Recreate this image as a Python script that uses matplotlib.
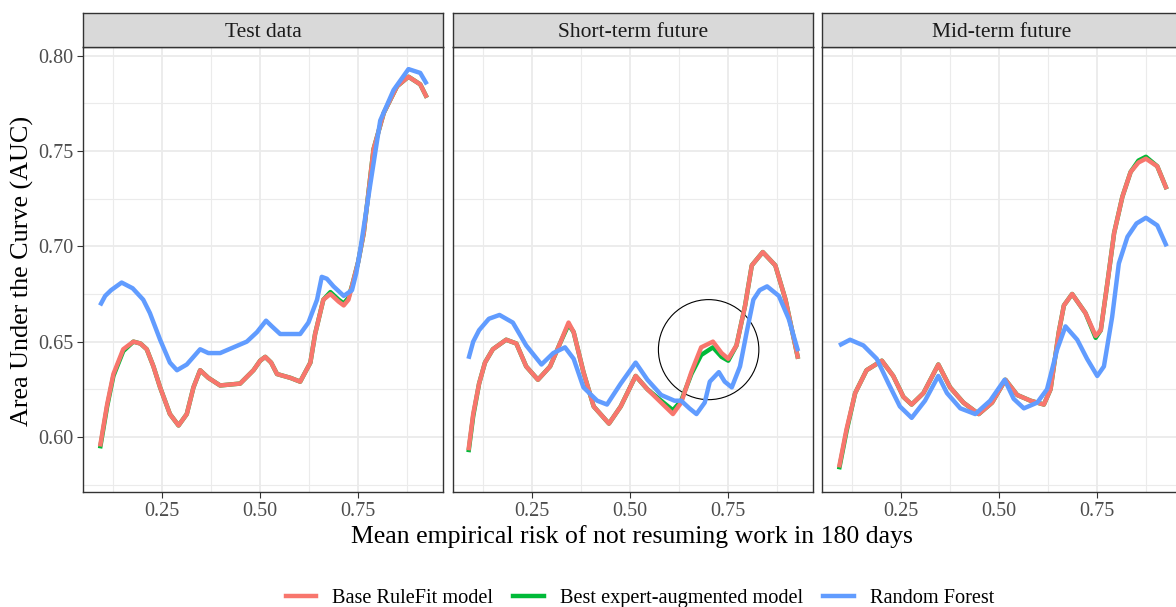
import matplotlib.pyplot as plt
from matplotlib.patches import Ellipse

plt.rcParams['font.family'] = 'Liberation Serif'

panels = ['Test data', 'Short-term future', 'Mid-term future']
models = ['Base RuleFit model', 'Best expert-augmented model', 'Random Forest']
colors = ['#F8766D', '#00BA38', '#619CFF']

# Test data
test_rulefit_x = [0.092, 0.110, 0.126, 0.151, 0.177, 0.195, 0.211, 0.228, 0.245, 0.270, 0.292, 0.313,
                  0.330, 0.347, 0.368, 0.398, 0.449, 0.483, 0.500, 0.513, 0.528, 0.543, 0.577, 0.602,
                  0.628, 0.640, 0.661, 0.679, 0.700, 0.713, 0.725, 0.735, 0.750, 0.764, 0.789, 0.815,
                  0.849, 0.878, 0.908, 0.925]
test_rulefit_y = [0.595, 0.617, 0.633, 0.646, 0.650, 0.649, 0.646, 0.637, 0.626, 0.612, 0.606, 0.612,
                  0.626, 0.635, 0.631, 0.627, 0.628, 0.635, 0.640, 0.642, 0.639, 0.633, 0.631, 0.629,
                  0.639, 0.654, 0.672, 0.675, 0.671, 0.669, 0.672, 0.680, 0.692, 0.707, 0.751, 0.770,
                  0.784, 0.789, 0.785, 0.778]
test_expert_x = test_rulefit_x
test_expert_y = [0.594, 0.616, 0.632, 0.645, 0.650, 0.649, 0.646, 0.637, 0.626, 0.612, 0.606, 0.612,
                 0.626, 0.635, 0.631, 0.627, 0.628, 0.635, 0.640, 0.642, 0.639, 0.633, 0.631, 0.629,
                 0.639, 0.654, 0.672, 0.676, 0.672, 0.670, 0.673, 0.680, 0.692, 0.707, 0.751, 0.770,
                 0.784, 0.789, 0.785, 0.778]
test_rf_x = [0.092, 0.105, 0.120, 0.147, 0.175, 0.202, 0.219, 0.245, 0.270, 0.288, 0.313, 0.330,
             0.347, 0.368, 0.398, 0.432, 0.466, 0.492, 0.515, 0.530, 0.551, 0.602, 0.623, 0.645,
             0.657, 0.670, 0.687, 0.713, 0.734, 0.745, 0.755, 0.781, 0.806, 0.840, 0.878, 0.908,
             0.925]
test_rf_y = [0.669, 0.674, 0.677, 0.681, 0.678, 0.672, 0.665, 0.651, 0.639, 0.635, 0.638, 0.642,
             0.646, 0.644, 0.644, 0.647, 0.650, 0.655, 0.661, 0.658, 0.654, 0.654, 0.660, 0.672,
             0.684, 0.683, 0.679, 0.674, 0.677, 0.686, 0.698, 0.733, 0.766, 0.782, 0.793, 0.791,
             0.785]

# Short-term future
short_rulefit_x = [0.088, 0.100, 0.115, 0.130, 0.150, 0.184, 0.210, 0.235, 0.265, 0.296, 0.321, 0.343,
                   0.356, 0.381, 0.407, 0.446, 0.476, 0.514, 0.544, 0.579, 0.609, 0.630, 0.656, 0.681,
                   0.711, 0.733, 0.750, 0.771, 0.793, 0.810, 0.838, 0.870, 0.896, 0.928]
short_rulefit_y = [0.593, 0.612, 0.628, 0.639, 0.646, 0.651, 0.649, 0.637, 0.630, 0.637, 0.649, 0.660,
                   0.655, 0.634, 0.616, 0.607, 0.616, 0.632, 0.625, 0.618, 0.612, 0.618, 0.634, 0.647,
                   0.650, 0.644, 0.641, 0.648, 0.669, 0.690, 0.697, 0.690, 0.672, 0.641]
short_expert_x = short_rulefit_x
short_expert_y = [0.592, 0.611, 0.628, 0.639, 0.646, 0.651, 0.649, 0.637, 0.630, 0.637, 0.649, 0.659,
                  0.655, 0.634, 0.616, 0.607, 0.616, 0.632, 0.625, 0.619, 0.614, 0.619, 0.633, 0.643,
                  0.647, 0.642, 0.640, 0.648, 0.669, 0.690, 0.697, 0.690, 0.672, 0.641]
short_rf_x = [0.088, 0.100, 0.115, 0.140, 0.167, 0.201, 0.235, 0.274, 0.304, 0.334, 0.356, 0.381,
              0.416, 0.441, 0.476, 0.514, 0.544, 0.579, 0.613, 0.630, 0.651, 0.669, 0.690, 0.703,
              0.726, 0.741, 0.759, 0.780, 0.797, 0.814, 0.830, 0.849, 0.879, 0.904, 0.928]
short_rf_y = [0.641, 0.650, 0.656, 0.662, 0.664, 0.660, 0.648, 0.638, 0.644, 0.647, 0.641, 0.626,
              0.619, 0.617, 0.628, 0.639, 0.630, 0.622, 0.619, 0.619, 0.615, 0.612, 0.618, 0.629,
              0.634, 0.629, 0.626, 0.637, 0.655, 0.672, 0.677, 0.679, 0.674, 0.662, 0.645]

# Mid-term future
mid_rulefit_x = [0.092, 0.111, 0.133, 0.162, 0.201, 0.230, 0.256, 0.277, 0.307, 0.345, 0.375, 0.409,
                 0.448, 0.482, 0.516, 0.546, 0.580, 0.614, 0.631, 0.652, 0.665, 0.686, 0.720, 0.746,
                 0.759, 0.776, 0.793, 0.814, 0.835, 0.855, 0.874, 0.903, 0.927]
mid_rulefit_y = [0.584, 0.604, 0.623, 0.635, 0.640, 0.632, 0.621, 0.617, 0.623, 0.638, 0.626, 0.618,
                 0.612, 0.618, 0.630, 0.622, 0.619, 0.617, 0.625, 0.655, 0.669, 0.675, 0.665, 0.653,
                 0.656, 0.681, 0.707, 0.726, 0.739, 0.744, 0.746, 0.742, 0.730]
mid_expert_x = mid_rulefit_x
mid_expert_y = [0.583, 0.603, 0.623, 0.635, 0.640, 0.632, 0.621, 0.617, 0.623, 0.638, 0.626, 0.618,
                0.612, 0.618, 0.630, 0.622, 0.619, 0.617, 0.625, 0.655, 0.669, 0.675, 0.665, 0.652,
                0.656, 0.681, 0.707, 0.726, 0.739, 0.745, 0.747, 0.742, 0.730]
mid_rf_x = [0.092, 0.120, 0.154, 0.188, 0.218, 0.247, 0.277, 0.311, 0.345, 0.367, 0.401, 0.439,
            0.477, 0.514, 0.537, 0.563, 0.597, 0.622, 0.648, 0.669, 0.699, 0.724, 0.750, 0.767,
            0.788, 0.805, 0.827, 0.850, 0.874, 0.903, 0.927]
mid_rf_y = [0.648, 0.651, 0.648, 0.641, 0.628, 0.616, 0.610, 0.619, 0.632, 0.623, 0.615, 0.612,
            0.619, 0.630, 0.620, 0.615, 0.618, 0.625, 0.646, 0.658, 0.651, 0.641, 0.632, 0.637,
            0.663, 0.691, 0.705, 0.712, 0.715, 0.711, 0.700]

series = [
    [(test_rulefit_x, test_rulefit_y), (test_expert_x, test_expert_y), (test_rf_x, test_rf_y)],
    [(short_rulefit_x, short_rulefit_y), (short_expert_x, short_expert_y), (short_rf_x, short_rf_y)],
    [(mid_rulefit_x, mid_rulefit_y), (mid_expert_x, mid_expert_y), (mid_rf_x, mid_rf_y)],
]

W, H = 1176, 607
fig = plt.figure(figsize=(W / 100, H / 100), dpi=100)

lefts = [83, 453, 822]
pw, top, bottom, strip_h = 360, 47, 492, 34
border = '#333333'

axes = []
for i, name in enumerate(panels):
    ax = fig.add_axes([lefts[i] / W, (H - bottom) / H, pw / W, (bottom - top) / H])
    ax.set_xlim(0.0485, 0.966)
    ax.set_ylim(0.5711, 0.8046)
    ax.set_xticks([0.25, 0.50, 0.75])
    ax.set_xticks([0.125, 0.375, 0.625, 0.875], minor=True)
    ax.set_yticks([0.60, 0.65, 0.70, 0.75, 0.80])
    ax.set_yticks([0.575, 0.625, 0.675, 0.725, 0.775], minor=True)
    ax.grid(which='major', color='#EBEBEB', lw=1.3)
    ax.grid(which='minor', color='#EBEBEB', lw=0.8)
    ax.set_axisbelow(True)
    for s in ax.spines.values():
        s.set_color(border)
        s.set_linewidth(1.0)
    ax.tick_params(which='major', length=4, color=border, labelsize=14.5,
                   labelcolor='#4D4D4D', pad=3)
    ax.tick_params(which='minor', length=0)
    if i > 0:
        ax.tick_params(axis='y', left=False, labelleft=False)

    # green under red so the near-identical curves show the way they overlap
    for (xs, ys), c in zip([series[i][1], series[i][0], series[i][2]],
                           [colors[1], colors[0], colors[2]]):
        ax.plot(xs, ys, color=c, lw=3.2, solid_capstyle='butt', solid_joinstyle='round')

    # facet strip
    sax = fig.add_axes([lefts[i] / W, (H - top) / H, pw / W, strip_h / H])
    sax.set_facecolor('#D9D9D9')
    sax.set_xticks([])
    sax.set_yticks([])
    for s in sax.spines.values():
        s.set_color(border)
        s.set_linewidth(1.0)
    sax.text(0.5, 0.42, name, ha='center', va='center', fontsize=15.5, color='#1A1A1A',
             transform=sax.transAxes)
    axes.append(ax)

axes[1].add_patch(Ellipse((0.70, 0.6458), 0.256, 0.0525, fill=False, ec='black', lw=0.8))

fig.text(22 / W, 1 - 271 / H, 'Area Under the Curve (AUC)', rotation=90,
         ha='center', va='center', fontsize=18.8)
fig.text(632 / W, 1 - 537 / H, 'Mean empirical risk of not resuming work in 180 days',
         ha='center', va='center', fontsize=18.5)

handles = [plt.Line2D([], [], color=c, lw=3.2) for c in colors]
fig.legend(handles, models, loc='center', bbox_to_anchor=(640 / W, 1 - 598 / H),
           ncol=3, frameon=False, fontsize=14.6, handlelength=1.5, columnspacing=1.0,
           handletextpad=0.8)

plt.savefig('out.png', dpi=100)
plt.close()
